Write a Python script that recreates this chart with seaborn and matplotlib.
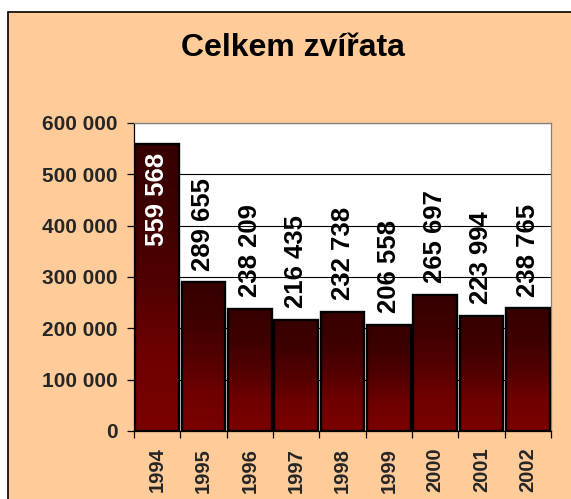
import numpy as np
import pandas as pd
import matplotlib
matplotlib.use("Agg")
import matplotlib.pyplot as plt
from matplotlib.colors import LinearSegmentedColormap
from matplotlib.patches import Rectangle
from matplotlib.ticker import FuncFormatter, FixedLocator
import seaborn as sns

# Total number of animals per year
years = ["1994", "1995", "1996", "1997", "1998", "1999", "2000", "2001", "2002"]
totals = [559568, 289655, 238209, 216435, 232738, 206558, 265697, 223994, 238765]
y_ticks = [0, 100000, 200000, 300000, 400000, 500000, 600000]
title = "Celkem zvířata"

sns.set_theme(style="white")
plt.rcParams["font.family"] = ["Liberation Sans", "DejaVu Sans"]
plt.rcParams["font.weight"] = "bold"

BG = "#FFCC99"


def fmt(v):
    return f"{int(round(v)):,}".replace(",", " ")


fig = plt.figure(figsize=(5.71, 4.99), dpi=100)
fig.patch.set_facecolor("white")
# framed chart area
frame = Rectangle((8 / 571, -0.05), 1.1, (499 - 12) / 499 + 0.05,
                  transform=fig.transFigure, facecolor=BG,
                  edgecolor="black", linewidth=1.2, zorder=-10)
fig.patches.append(frame)

ax = fig.add_axes([134 / 571, 68 / 499, (551 - 134) / 571, (431 - 123) / 499])
ax.set_zorder(1)
ax.set_facecolor("white")

df = pd.DataFrame({"year": years, "total": totals})
sns.barplot(data=df, x="year", y="total", ax=ax, width=0.94,
            color="#6a0000", edgecolor="black", linewidth=1.7, zorder=3)

ax.set_xlim(-0.5, len(years) - 0.5)
ax.set_ylim(0, 600000)

# vertical dark-to-red gradient inside each bar
cmap = LinearSegmentedColormap.from_list(
    "bar", ["#7a0000", "#700000", "#520000", "#3e0000", "#360000"])
grad = np.linspace(0, 1, 256).reshape(-1, 1)
for p in ax.patches:
    x0, y0 = p.get_x(), p.get_y()
    w, h = p.get_width(), p.get_height()
    im = ax.imshow(grad, extent=[x0, x0 + w, y0, y0 + h], origin="lower",
                   cmap=cmap, aspect="auto", zorder=2, interpolation="bicubic")
    im.set_clip_path(p)
    p.set_facecolor("none")
ax.set_xlim(-0.5, len(years) - 0.5)
ax.set_ylim(0, 600000)

# value labels
for i, v in enumerate(totals):
    if i == 0:
        ax.annotate(fmt(v), (i, v), xytext=(0, -6.5), textcoords="offset points",
                    rotation=90, ha="center", va="top", fontsize=18.5,
                    fontweight="bold", color="white", zorder=5)
    else:
        ax.annotate(fmt(v), (i, v), xytext=(0, 8.5), textcoords="offset points",
                    rotation=90, ha="center", va="bottom", fontsize=18.5,
                    fontweight="bold", color="black", zorder=5)

# axes styling
ax.yaxis.set_major_locator(FixedLocator(y_ticks))
ax.yaxis.set_major_formatter(FuncFormatter(lambda v, _: fmt(v)))
ax.grid(axis="y", color="black", linewidth=0.8)
ax.set_axisbelow(True)
ax.set_xlabel("")
ax.set_ylabel("")
for s in ax.spines.values():
    s.set_visible(True)
    s.set_color("black")
    s.set_linewidth(0.9)
ax.spines["top"].set_color("#808080")
ax.spines["right"].set_color("#808080")

ax.tick_params(axis="y", which="major", direction="out", length=5, width=0.9,
               color="black", pad=7, labelsize=15, left=True)
ax.set_xticks(range(len(years)))
ax.set_xticklabels(years, rotation=90, fontsize=14.5, fontweight="bold")
ax.set_xticks(np.arange(-0.5, len(years), 1.0), minor=True)
ax.tick_params(axis="x", which="major", length=0, pad=12)
ax.tick_params(axis="x", which="minor", direction="out", length=5, width=0.9,
               color="black", bottom=True)
for lbl in ax.get_yticklabels():
    lbl.set_fontweight("bold")

fig.text(293 / 571, 1 - 48 / 499, title, ha="center", va="center",
         fontsize=23, fontweight="bold", color="black")

fig.savefig("out.png", dpi=100, facecolor=fig.get_facecolor())
